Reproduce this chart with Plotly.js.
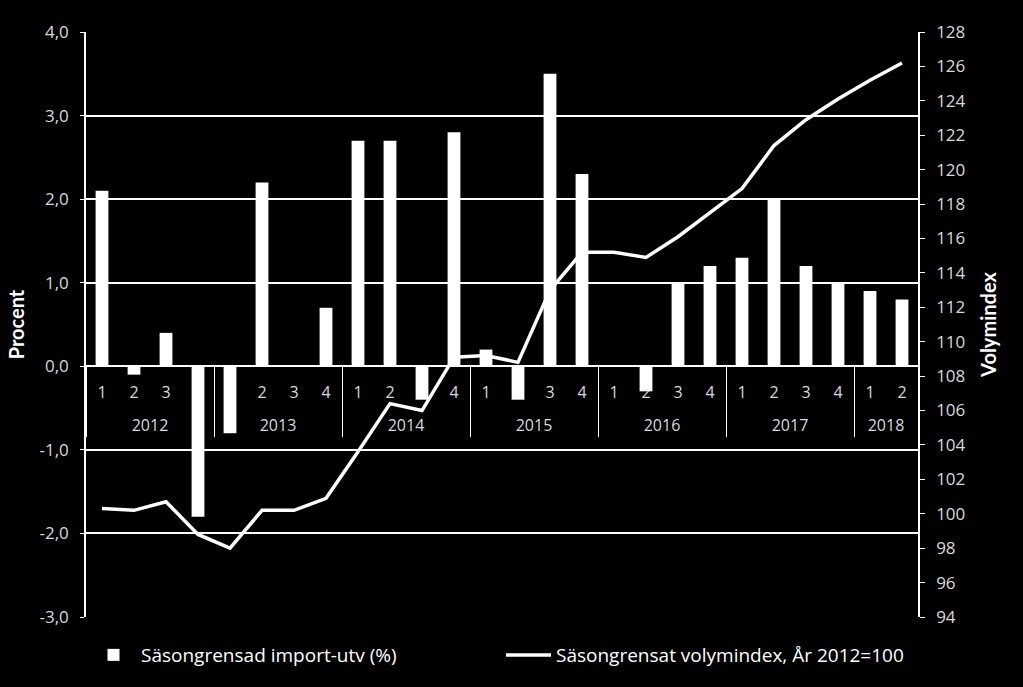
<!DOCTYPE html>
<html>
<head>
<meta charset="utf-8">
<script src="https://cdn.plot.ly/plotly-3.0.1.min.js"></script>
<style>
    body { margin: 0; background: #000; }
</style>
</head>
<body>
<div id="graph" style="width:1023px;height:687px"></div>
<script>
// kvartal 2012 Q1 - 2018 Q2
const yearLabels = [
    '2012', '2012', '2012', '2012',
    '2013', '2013', '2013', '2013',
    '2014', '2014', '2014', '2014',
    '2015', '2015', '2015', '2015',
    '2016', '2016', '2016', '2016',
    '2017', '2017', '2017', '2017',
    '2018', '2018'
];
const quarterLabels = [
    '1', '2', '3', '4',
    '1', '2', '3', '4',
    '1', '2', '3', '4',
    '1', '2', '3', '4',
    '1', '2', '3', '4',
    '1', '2', '3', '4',
    '1', '2'
];

// Säsongrensad import-utv (%)
const importGrowth = [
    2.1, -0.1, 0.4, -1.8,
    -0.8, 2.2, 0.0, 0.7,
    2.7, 2.7, -0.4, 2.8,
    0.2, -0.4, 3.5, 2.3,
    0.0, -0.3, 1.0, 1.2,
    1.3, 2.0, 1.2, 1.0,
    0.9, 0.8
];

// Säsongrensat volymindex, År 2012=100
const volumeIndex = [
    100.3, 100.2, 100.7, 98.8,
    98.0, 100.2, 100.2, 100.9,
    103.6, 106.4, 106.0, 109.1,
    109.2, 108.8, 113.0, 115.2,
    115.2, 114.9, 116.1, 117.5,
    118.9, 121.4, 122.9, 124.1,
    125.2, 126.2
];

// vänster axel, med vanligt bindestreck som minustecken
const percentTickValues = [-3, -2, -1, 0, 1, 2, 3, 4];
const percentTickText = ['-3,0', '-2,0', '-1,0', '0,0', '1,0', '2,0', '3,0', '4,0'];

const tickFamily = '"Open Sans", Lato, sans-serif';
const titleFamily = 'Lato, "Open Sans", sans-serif';
const labelColor = '#d9d9d9';

// årtalen ska stå en rad under kvartalen, som i Excel
const yearRow = yearLabels.map(y => '<br>' + y);

const barTrace = {
    x: [yearRow, quarterLabels],
    y: importGrowth,
    type: 'bar',
    name: 'Säsongrensad import-utv (%)',
    marker: {color: '#ffffff', line: {width: 0}},
    yaxis: 'y'
};

const lineTrace = {
    x: [yearRow, quarterLabels],
    y: volumeIndex,
    type: 'scatter',
    mode: 'lines',
    name: 'Säsongrensat volymindex, År 2012=100',
    line: {color: '#ffffff', width: 3.5},
    yaxis: 'y2'
};

const layout = {
    width: 1023,
    height: 687,
    paper_bgcolor: '#000000',
    plot_bgcolor: '#000000',
    separators: ', ',
    font: {family: tickFamily, color: labelColor, size: 16},
    margin: {l: 86, r: 105, t: 32, b: 70},
    bargap: 0.6,
    showlegend: true,
    legend: {
        orientation: 'h',
        x: 0.0,
        xanchor: 'left',
        y: -0.065,
        yanchor: 'middle',
        font: {size: 19, color: '#ffffff'},
        itemwidth: 45,
        entrywidth: 355,
        bgcolor: 'rgba(0,0,0,0)'
    },
    xaxis: {
        type: 'multicategory',
        anchor: 'free',
        position: 3 / 7,
        showline: true,
        linecolor: '#ffffff',
        linewidth: 1.5,
        showgrid: false,
        zeroline: false,
        showdividers: true,
        dividercolor: '#ffffff',
        dividerwidth: 1,
        ticks: '',
        ticklabelstandoff: 12,
        tickfont: {size: 16, color: labelColor},
        layer: 'below traces'
    },
    yaxis: {
        range: [-3, 4],
        tickmode: 'array',
        tickvals: percentTickValues,
        ticktext: percentTickText,
        showgrid: true,
        gridcolor: '#ffffff',
        gridwidth: 1.5,
        zeroline: false,
        showline: true,
        linecolor: '#ffffff',
        linewidth: 1.5,
        ticks: 'outside',
        ticklen: 4,
        tickcolor: '#ffffff',
        ticklabelstandoff: 8,
        tickfont: {size: 17, color: labelColor},
        title: {text: 'Procent', font: {family: titleFamily, size: 20, color: '#ffffff', weight: 'bold'}, standoff: 10}
    },
    yaxis2: {
        range: [94, 128],
        dtick: 2,
        overlaying: 'y',
        side: 'right',
        anchor: 'x',
        showgrid: false,
        zeroline: false,
        showline: true,
        linecolor: '#ffffff',
        linewidth: 1.5,
        ticks: 'outside',
        ticklen: 5,
        tickcolor: '#ffffff',
        ticklabelstandoff: 8,
        tickfont: {size: 17, color: labelColor},
        title: {text: 'Volymindex', font: {family: titleFamily, size: 20, color: '#ffffff', weight: 'bold'}, standoff: 17}
    },
    hovermode: false
};

const config = {
    displayModeBar: false,
    responsive: false
};

Plotly.newPlot('graph', [barTrace, lineTrace], layout, config);
</script>
</body>
</html>
